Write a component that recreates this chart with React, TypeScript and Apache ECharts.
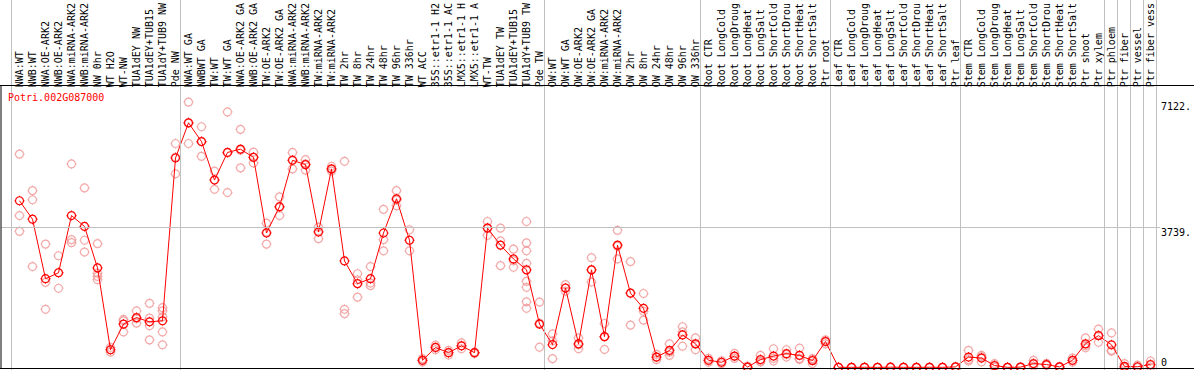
import React, { useEffect, useRef } from "react";
import * as echarts from "echarts";

const geneId = "Potri.002G087000";

const categories = [
  "NWA:WT", "NWB:WT", "NWA:OE-ARK2", "NWB:OE-ARK2", "NWA:miRNA-ARK2", "NWB:miRNA-ARK2", "NW 0hr", "WT H2O", "WT-NW", "TUA1dEY NW",
  "TUA1dEY+TUB15", "TUA1dY+TUB9 NW", "Pde NW", "NWA:WT GA", "NWBWT GA", "TW:WT", "TW:WT GA", "NWA:OE-ARK2 GA", "NWB:OE-ARK2 GA", "TW:OE-ARK2",
  "TW:OE-ARK2 GA", "NWA:miRNA-ARK2", "NWB:miRNA-ARK2", "TW:miRNA-ARK2", "TW:miRNA-ARK2", "TW 2hr", "TW 8hr", "TW 24hr", "TW 48hr", "TW 96hr",
  "TW 336hr", "WT ACC", "35S::etr1-1 H2", "35S::etr1-1 AC", "LMX5::etr1-1 H", "LMX5::etr1-1 A", "WT-TW", "TUA1dEY TW", "TUA1dEY+TUB15", "TUA1dY+TUB9 TW",
  "Pde TW", "OW:WT", "OW:WT GA", "OW:OE-ARK2", "OW:OE-ARK2 GA", "OW:miRNA-ARK2", "OW:miRNA-ARK2", "OW 2hr", "OW 8hr", "OW 24hr",
  "OW 48hr", "OW 96hr", "OW 336hr", "Root CTR", "Root LongCold", "Root LongDroug", "Root LongHeat", "Root LongSalt", "Root ShortCold", "Root ShortDrou",
  "Root ShortHeat", "Root ShortSalt", "Ptr root", "Leaf CTR", "Leaf LongCold", "Leaf LongDroug", "Leaf LongHeat", "Leaf LongSalt", "Leaf ShortCold", "Leaf ShortDrou",
  "Leaf ShortHeat", "Leaf ShortSalt", "Ptr leaf", "Stem CTR", "Stem LongCold", "Stem LongDroug", "Stem LongHeat", "Stem LongSalt", "Stem ShortCold", "Stem ShortDrou",
  "Stem ShortHeat", "Stem ShortSalt", "Ptr shoot", "Ptr xylem", "Ptr phloem", "Ptr fiber", "Ptr vessel", "Ptr fiber vess",
];

const means = [
  4529, 4028, 2412, 2573, 4127, 3832, 2707, 482, 1179, 1356,
  1241, 1268, 5690, 6646, 6137, 5092, 5842, 5931, 5708, 3653,
  4368, 5628, 5510, 3680, 5395, 2894, 2278, 2412, 3653, 4583,
  3457, 196, 544, 402, 590, 402, 3787, 3323, 2948, 2653,
  1179, 624, 2160, 643, 2653, 839, 3323, 2018, 1608, 284,
  464, 884, 643, 196, 142, 311, 12, 214, 311, 375,
  330, 188, 705, 5, 4, 6, 3, 8, 5, 4,
  6, 5, 16, 284, 257, 54, 4, 10, 107, 80,
  16, 196, 643, 866, 616, 30, 20, 82,
];

const replicates = [
  [5797, 4127, 3698], [4805, 4556, 2742], [3350, 2313, 1581], [3036, 2581, 2152], [5529, 3473, 3393],
  [4878, 3457, 3136], [3366, 2562, 2474, 2385], [544, 418, 482], [1268, 965, 1305], [1536, 1206, 1327],
  [1742, 1134, 750, 1340], [1624, 1536, 1375, 965, 616], [6084, 5261, 5716], [7209, 6084, 6646], [6539, 5735, 6137],
  [5333, 4840, 5100], [6941, 4752, 5834], [6467, 5422, 5904], [5850, 5556, 5716], [3921, 3350, 3680],
  [4636, 4127, 4350], [5842, 5395, 5636], [5644, 5360, 5529], [3814, 3500, 3706], [5467, 5333, 5384],
  [5601, 1581, 1463], [2546, 1911, 2377], [2742, 2224, 2294], [4296, 3473, 3170], [4805, 4395, 4548],
  [3741, 3170, 3457], [150, 241, 196], [482, 606, 544], [464, 340, 402], [670, 509, 590],
  [402, 383, 420], [3966, 3591, 3803], [3787, 3438, 2768], [3216, 2723, 2902], [3966, 3385, 3170, 2830, 2340, 2179, 1785, 1608],
  [1777, 552, 1209], [911, 241, 721], [2251, 2072, 2157], [804, 509, 616], [2983, 2321, 2656],
  [1195, 490, 831], [3725, 2948, 3294], [2876, 1152, 2026], [2010, 1286, 1528], [214, 356, 281],
  [643, 330, 418], [1107, 579, 967], [804, 482, 643], [249, 142, 196], [182, 102, 142],
  [383, 249, 300], [35, 0, 2], [330, 150, 169], [509, 177, 249], [482, 284, 356],
  [525, 241, 222], [241, 107, 214], [643, 750, 718], [8, 2, 5], [6, 2, 4],
  [10, 3, 5], [4, 1, 3], [12, 5, 8], [9, 2, 4], [5, 3, 4],
  [10, 4, 5], [7, 3, 5], [25, 10, 14], [464, 177, 214], [330, 150, 289],
  [107, 8, 35], [6, 2, 4], [20, 5, 6], [196, 35, 88], [110, 60, 70],
  [30, 8, 10], [257, 142, 188], [804, 536, 590], [1045, 686, 866], [938, 445, 464],
  [107, 0, 0], [62, 0, 0], [177, 8, 62],
];

const yTickValues = [3739, 7122];
const yTickLabels = ["3739.", "7122."];
const yZeroLabel = "0";
const groupBoundaries = [0, 13, 41, 53, 63, 73, 84, 85, 86, 87, 88];
const referenceLine = 3739;

export default function App() {
  const ref = useRef<HTMLDivElement>(null);
  useEffect(() => {
    if (!ref.current) return;
    const chart = echarts.init(ref.current, null, { renderer: "svg" });
    const font = "'DejaVu Sans Mono', monospace";
    const yMax = 7557;
    const scatterData: number[][] = [];
    replicates.forEach((reps, i) => reps.forEach((v) => scatterData.push([i, v])));
    const marker = "path://M5,1A4,4 0 1 1 4.99,1Z M5,0L5,1 M5,9L5,10 M0,5L1,5 M9,5L10,5";
    const grey = "#c0c0c0";
    chart.setOption({
      animation: false,
      backgroundColor: "#ffffff",
      title: {
        text: geneId,
        left: 8,
        top: 92,
        padding: 0,
        textStyle: { color: "#ff0000", fontFamily: font, fontSize: 10, fontWeight: "normal" },
      },
      grid: [
        { left: 13, top: 85, width: 1144, height: 282.5 },
        { left: 1, top: 85, width: 1162, height: 282.5 },
        { left: 10.8, top: 0, width: 1145, height: 370 },
      ],
      xAxis: [
        {
          type: "category",
          gridIndex: 0,
          data: categories,
          position: "top",
          boundaryGap: true,
          axisLine: { show: false },
          axisTick: { show: false },
          splitLine: { show: false },
          axisLabel: { interval: 0, rotate: 90, margin: 2, fontFamily: font, fontSize: 10, color: "#000" },
        },
        { type: "value", gridIndex: 1, min: 0, max: 1, show: false },
        { type: "value", gridIndex: 2, min: 0, max: 88, show: false },
      ],
      yAxis: [
        { type: "value", gridIndex: 0, min: 0, max: yMax, show: false },
        {
          type: "value",
          gridIndex: 1,
          min: 0,
          max: yMax,
          position: "right",
          axisLine: { show: false },
          axisTick: { show: false },
          splitLine: { show: false },
          axisLabel: {
            customValues: yTickValues,
            formatter: (v: number) => {
              const k = yTickValues.indexOf(v);
              return k >= 0 ? yTickLabels[k] : String(v);
            },
            verticalAlign: "top",
            margin: 1,
            fontFamily: font,
            fontSize: 10,
            color: "#000",
          },
        },
        {
          type: "value",
          gridIndex: 1,
          min: 0,
          max: yMax,
          position: "right",
          axisLine: { show: false },
          axisTick: { show: false },
          splitLine: { show: false },
          axisLabel: {
            customValues: [0],
            formatter: () => yZeroLabel,
            verticalAlign: "bottom",
            margin: 1,
            fontFamily: font,
            fontSize: 10,
            color: "#000",
          },
        },
        { type: "value", gridIndex: 2, min: 0, max: 1, show: false },
      ],
      graphic: [
        { type: "line", z: 100, shape: { x1: 0, y1: 85.5, x2: 1194, y2: 85.5 }, style: { stroke: "#000", lineWidth: 1 } },
        { type: "line", z: 100, shape: { x1: 0, y1: 368.5, x2: 1194, y2: 368.5 }, style: { stroke: "#000", lineWidth: 1 } },
        { type: "line", z: 100, shape: { x1: 1, y1: 85, x2: 1, y2: 369 }, style: { stroke: "#000", lineWidth: 1 } },
      ],
      series: [
        {
          type: "line",
          xAxisIndex: 2,
          yAxisIndex: 3,
          data: [[0, 0]],
          showSymbol: false,
          lineStyle: { opacity: 0 },
          silent: true,
          markLine: {
            silent: true,
            symbol: "none",
            label: { show: false },
            lineStyle: { color: grey, width: 1, type: "solid" },
            data: groupBoundaries.map((b) => ({ xAxis: b })),
          },
        },
        {
          type: "line",
          xAxisIndex: 1,
          yAxisIndex: 1,
          data: [[0, 0]],
          showSymbol: false,
          lineStyle: { opacity: 0 },
          silent: true,
          markLine: {
            silent: true,
            symbol: "none",
            label: { show: false },
            lineStyle: { color: grey, width: 1, type: "solid" },
            data: [{ yAxis: referenceLine }],
          },
        },
        {
          type: "scatter",
          xAxisIndex: 0,
          yAxisIndex: 0,
          data: scatterData,
          symbol: marker,
          symbolSize: 10,
          itemStyle: { color: "rgba(0,0,0,0)", borderColor: "#f09494", borderWidth: 1.2 },
          z: 3,
        },
        {
          type: "line",
          xAxisIndex: 0,
          yAxisIndex: 0,
          data: means,
          symbol: marker,
          symbolSize: 10,
          showAllSymbol: true,
          itemStyle: { color: "rgba(0,0,0,0)", borderColor: "#ff0000", borderWidth: 1.2 },
          lineStyle: { color: "#ff0000", width: 1 },
          z: 4,
        },
      ],
    });
    return () => chart.dispose();
  }, []);
  return (
    <div
      ref={ref}
      style={{ position: "absolute", left: 0, top: 0, width: 1194, height: 370, background: "#fff" }}
    />
  );
}
